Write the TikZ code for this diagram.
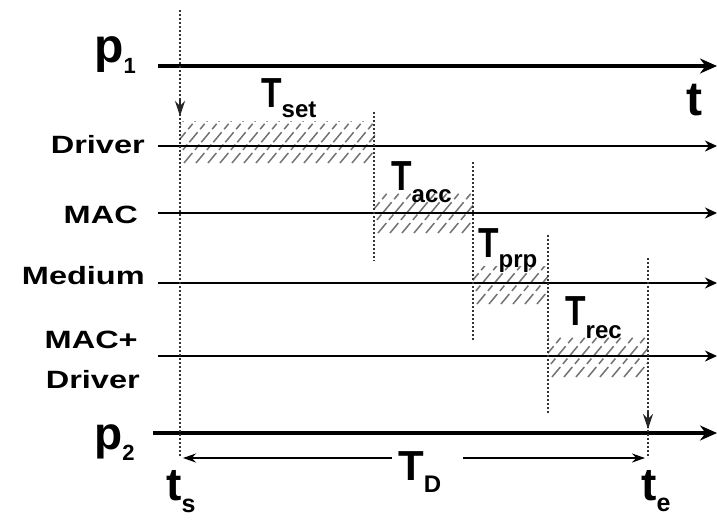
\documentclass[tikz,border=0pt]{standalone}
\usepackage{fontspec}
\setmainfont{Liberation Sans}
\usetikzlibrary{arrows.meta}
\newcommand{\Tlab}[3]{\scalebox{#3}[1]{\fontsize{42}{42}\selectfont T}\raisebox{-#2pt}{\fontsize{24}{24}\selectfont #1}}
\newcommand{\hatchbox}[4]{%
  \begin{scope}
    \clip (#1,#2) rectangle (#3,#4);
    \foreach \k in {-56,-44,...,210} \draw[hatchline] ({#1+\k},#4) -- ++(40,-48);
  \end{scope}}
\begin{document}
\begin{tikzpicture}[x=1pt,y=-1pt,
  lab/.style={font=\fontsize{25}{25}\selectfont\bfseries, xscale=1.3, inner sep=0pt},
  big/.style={font=\bfseries, inner sep=0pt},
  mainline/.style={line width=3.8pt, -{Stealth[length=17pt,width=15pt]}},
  layerline/.style={line width=2.8pt, -{Stealth[length=12pt,width=11pt]}},
  dotline/.style={line width=1.7pt, black!80, dash pattern=on 2pt off 2pt},
  tiphead/.style={line width=1.6pt, black!85, -{Stealth[length=15pt,width=10pt]}},
  hatchline/.style={line width=1.5pt, black!55, dash pattern=on 13pt off 4pt on 7pt off 3pt},
  durarrow/.style={line width=2.2pt, -{Stealth[length=13pt,width=9pt]}}]
\useasboundingbox (0,0) rectangle (717,520);

% hatched intervals
\hatchbox{180}{121}{375}{163}
\hatchbox{374}{192}{473}{233}
\hatchbox{473}{266}{548}{304}
\hatchbox{548}{337}{648}{377}

% coordinates
\coordinate (p1a) at (158,66);   \coordinate (p1b) at (717,66);
\coordinate (dra) at (158,146);  \coordinate (drb) at (717,146);
\coordinate (maca) at (158,213); \coordinate (macb) at (717,213);
\coordinate (meda) at (158,283); \coordinate (medb) at (717,283);
\coordinate (mda) at (158,356);  \coordinate (mdb) at (717,356);
\coordinate (p2a) at (153,433);  \coordinate (p2b) at (717,433);

% time lines
\draw[mainline] (p1a) -- (p1b);
\draw[layerline] (dra) -- (drb);
\draw[layerline] (maca) -- (macb);
\draw[layerline] (meda) -- (medb);
\draw[layerline] (mda) -- (mdb);
\draw[mainline] (p2a) -- (p2b);

% dotted verticals
\coordinate (v1t) at (180,10); \coordinate (v1h) at (180,100); \coordinate (v1m) at (180,116); \coordinate (v1b) at (180,457);
\coordinate (v2t) at (374,112); \coordinate (v2b) at (374,261);
\coordinate (v3t) at (473,162); \coordinate (v3b) at (473,340);
\coordinate (v4t) at (548,235); \coordinate (v4b) at (548,413);
\coordinate (v5t) at (648,258); \coordinate (v5h) at (648,412); \coordinate (v5m) at (648,429); \coordinate (v5b) at (648,458);
\draw[dotline] (v1t) -- (v1b);
\draw[tiphead] (v1h) -- (v1m);
\draw[dotline] (v2t) -- (v2b);
\draw[dotline] (v3t) -- (v3b);
\draw[dotline] (v4t) -- (v4b);
\draw[dotline] (v5t) -- (v5b);
\draw[tiphead] (v5h) -- (v5m);

% labels
\node[big, anchor=base west, font=\fontsize{48}{48}\selectfont\bfseries] (p1) at (94,62) {p\raisebox{-11pt}{\fontsize{22}{22}\selectfont 1}};
\node[big, anchor=base west, font=\fontsize{46}{46}\selectfont\bfseries] (p2) at (94,449) {p\raisebox{-11pt}{\fontsize{22}{22}\selectfont 2}};
\node[big, anchor=base, font=\fontsize{48}{48}\selectfont\bfseries] (t) at (694,115) {t};
\node[lab, anchor=base east] (ldr) at (145,153) {Driver};
\node[lab, anchor=base east] (lmac) at (138,223) {MAC};
\node[lab, anchor=base east] (lmed) at (145,284) {Medium};
\node[lab, anchor=base east] (lmd1) at (138,348) {MAC+};
\node[lab, anchor=base east] (lmd2) at (140,388) {Driver};

\node[big, anchor=base west] (tset) at (261,107) {\Tlab{set}{10}{0.8}};
\node[big, anchor=base west] (tacc) at (391,190) {\Tlab{acc}{12}{0.8}};
\node[big, anchor=base west] (tprp) at (478,257) {\Tlab{prp}{10}{0.8}};
\node[big, anchor=base west] (trec) at (565,325) {\Tlab{rec}{13}{0.8}};
\node[big, anchor=base west] (tD) at (398,480) {\Tlab{D}{12}{1}};

\node[big, anchor=base west] (ts) at (166,500) {{\fontsize{46}{46}\selectfont t}\raisebox{-12pt}{\fontsize{25}{25}\selectfont s}};
\node[big, anchor=base west] (te) at (641,500) {{\fontsize{46}{46}\selectfont t}\raisebox{-11pt}{\fontsize{25}{25}\selectfont e}};

% duration arrow
\coordinate (dl) at (183,458); \coordinate (dr) at (645,458);
\coordinate (dlm) at (392,458); \coordinate (drm) at (463,458);
\draw[durarrow] (dlm) -- (dl);
\draw[durarrow] (drm) -- (dr);
\end{tikzpicture}
\end{document}
